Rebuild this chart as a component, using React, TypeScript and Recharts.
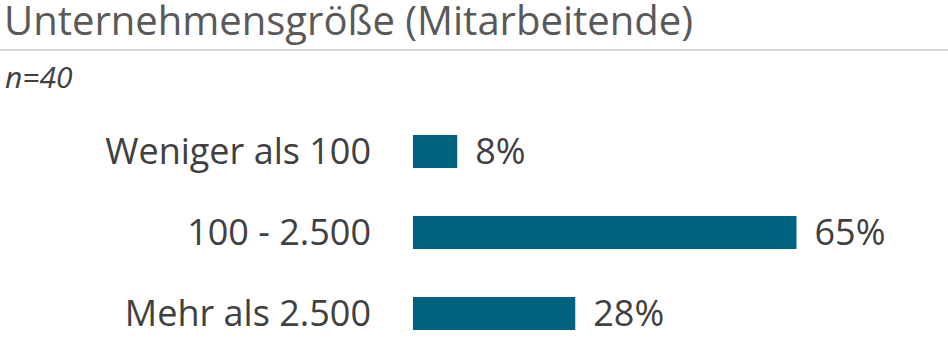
import { BarChart, Bar, XAxis, YAxis, LabelList } from 'recharts'

// Antworten je Kategorie (n=40): 3, 26, 11
const categories = ['Weniger als 100', '100 - 2.500', 'Mehr als 2.500']
const shares = [7.5, 65, 27.5]

const title = 'Unternehmensgröße (Mitarbeitende)'
const subtitle = 'n=40'

const data = categories.map((category, i) => ({ category, share: shares[i] }))

const FONT = '"Open Sans", sans-serif'
const TEXT = '#404040'

export default function App() {
  return (
    <div
      style={{
        position: 'absolute',
        top: 0,
        left: 0,
        width: 948,
        height: 339,
        overflow: 'hidden',
        background: '#fff',
        fontFamily: FONT,
      }}
    >
      <svg width={948} height={100} style={{ position: 'absolute', top: 0, left: 0 }}>
        <text x={4} y={35} fontSize={40} fill="#595959" fontFamily={FONT}>
          {title}
        </text>
        <line x1={0} x2={948} y1={50} y2={50} stroke="#d9d9d9" strokeWidth={2} />
        <text x={5} y={88} fontSize={30} fill={TEXT} fontStyle="italic" fontFamily={FONT}>
          {subtitle}
        </text>
      </svg>
      <div style={{ position: 'absolute', top: 0, left: 0 }}>
        <BarChart
          width={948}
          height={360}
          data={data}
          layout="vertical"
          margin={{ top: 111, right: 63, bottom: 6, left: 0 }}
        >
          <XAxis type="number" domain={[0, 80]} hide />
          <YAxis
            type="category"
            dataKey="category"
            width={413}
            axisLine={false}
            tickLine={false}
            tickSize={0}
            tickMargin={42}
            tick={{ fill: TEXT, fontSize: 36, fontFamily: FONT }}
          />
          <Bar dataKey="share" fill="#00627F" barSize={33} isAnimationActive={false}>
            <LabelList
              dataKey="share"
              position="right"
              offset={18}
              formatter={(v: number) => `${Math.round(v)}%`}
              style={{ fill: TEXT, fontSize: 36, fontFamily: FONT }}
            />
          </Bar>
        </BarChart>
      </div>
    </div>
  )
}
